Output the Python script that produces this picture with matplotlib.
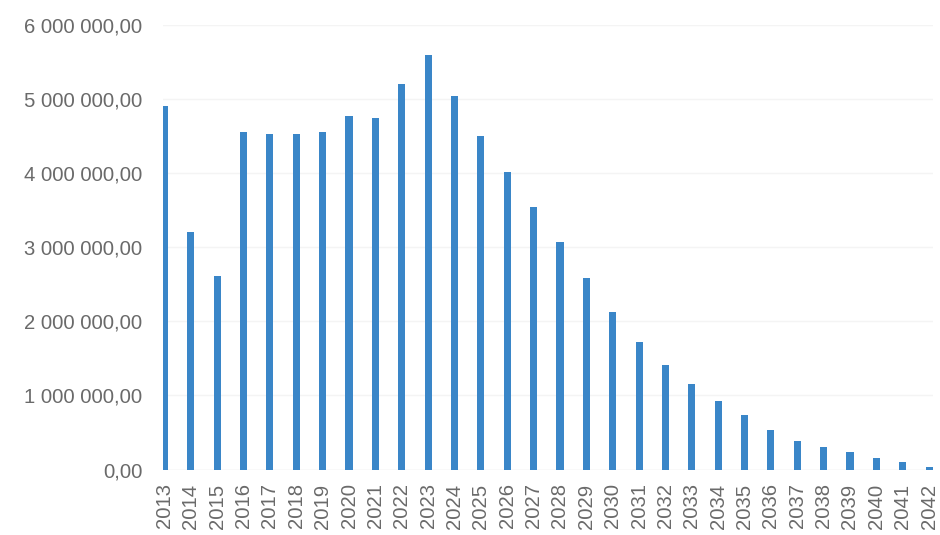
import matplotlib
matplotlib.use("Agg")
import matplotlib.pyplot as plt
import numpy as np

years = [str(y) for y in range(2013, 2043)]
values = [4.91e6, 3.20e6, 2.61e6, 4.55e6, 4.53e6, 4.53e6, 4.55e6, 4.77e6, 4.74e6,
          5.20e6, 5.59e6, 5.04e6, 4.50e6, 4.01e6, 3.54e6, 3.07e6, 2.58e6, 2.12e6,
          1.72e6, 1.41e6, 1.15e6, 0.93e6, 0.73e6, 0.54e6, 0.39e6, 0.31e6, 0.23e6,
          0.15e6, 0.095e6, 0.04e6]
yticks = [0, 1e6, 2e6, 3e6, 4e6, 5e6, 6e6]
ytick_labels = ["0,00", "1 000 000,00", "2 000 000,00", "3 000 000,00",
                "4 000 000,00", "5 000 000,00", "6 000 000,00"]

plt.rcParams['font.family'] = ['Liberation Sans', 'DejaVu Sans']

fig = plt.figure(figsize=(9.4, 5.35), dpi=100)
ax = fig.add_axes([0.173, 0.1224, 0.8196, 0.8309])
x = np.arange(len(years))
ax.bar(x, values, width=0.27, color='#3a86c8', zorder=3)
ax.set_xlim(-0.07, 29.15)
ax.set_ylim(0, 6e6)
ax.set_yticks(yticks)
ax.set_yticklabels(ytick_labels)
ax.set_xticks(x)
ax.set_xticklabels(years, rotation=90)
ax.tick_params(axis='y', length=0, pad=14.5, labelsize=14.6, labelcolor='#6a6a6a')
ax.tick_params(axis='x', length=0, pad=10, labelsize=14.6, labelcolor='#6a6a6a')
for lbl in ax.get_xticklabels():
    lbl.set_verticalalignment('top')
ax.grid(axis='y', color='#f4f4f4', linewidth=1, zorder=0)
for s in ax.spines.values():
    s.set_visible(False)
ax.axhline(0, color='#f0f0f0', linewidth=1, zorder=2)

fig.savefig("out.png", dpi=100)
